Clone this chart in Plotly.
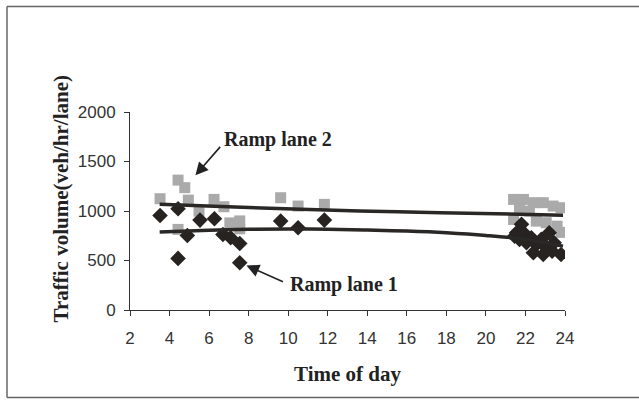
import plotly.graph_objects as go

# ---- data ----
lane2_hours = [3.52, 4.43, 4.77, 4.95, 5.49, 6.25, 6.75, 4.43, 7.05, 7.55, 7.55, 9.62, 10.5, 11.83,
               21.4, 21.9, 22.4, 22.9, 23.4, 23.8, 21.4, 22.55, 23.05, 23.6, 23.8, 21.7, 22.2]
lane2_vals = [1124, 1312, 1236, 1110, 999, 1117, 1043, 814, 880, 900, 820, 1134, 1050, 1067,
              1117, 1117, 1084, 1084, 1050, 1033, 915, 898, 882, 847, 784, 1016, 999]

lane1_hours = [3.52, 4.43, 4.43, 4.9, 5.54, 6.27, 6.7, 7.09, 7.55, 7.55, 9.62, 10.5, 11.83,
               21.8, 21.55, 21.45, 22.0, 22.3, 22.05, 22.55, 22.8, 23.05, 23.2, 23.35, 23.45, 23.8, 22.9, 22.4, 21.7]
lane1_vals = [955, 1023, 521, 753, 908, 922, 763, 730, 672, 477, 898, 831, 908,
              865, 780, 746, 763, 730, 680, 662, 713, 629, 780, 594, 680, 561, 561, 578, 713]

trend2_hours = [3.5, 8, 13.6, 17.7, 23.9]
trend2_vals = [1067, 1035, 1000, 983, 958]

trend1_hours = [3.5, 6, 8, 10, 12, 14, 16, 18, 20, 22, 23.9]
trend1_vals = [787, 805, 815, 818, 815, 807, 797, 780, 753, 713, 645]

x_ticks = [2, 4, 6, 8, 10, 12, 14, 16, 18, 20, 22, 24]
y_ticks = [0, 500, 1000, 1500, 2000]

fig = go.Figure()
fig.add_trace(go.Scatter(x=lane2_hours, y=lane2_vals, mode="markers",
                         marker=dict(symbol="square", size=11, color="#aaaaaa", line=dict(width=0)),
                         showlegend=False))
fig.add_trace(go.Scatter(x=lane1_hours, y=lane1_vals, mode="markers",
                         marker=dict(symbol="diamond", size=12, color="#262320", line=dict(width=0)),
                         showlegend=False))
fig.add_trace(go.Scatter(x=trend2_hours, y=trend2_vals, mode="lines", line_shape="spline",
                         line=dict(color="#2a2826", width=3.5), showlegend=False))
fig.add_trace(go.Scatter(x=trend1_hours, y=trend1_vals, mode="lines", line_shape="spline",
                         line=dict(color="#2a2826", width=3.5), showlegend=False))

serif = "Liberation Serif, Times New Roman, serif"
sans = "Liberation Sans, Arial, sans-serif"

# border frame (paper coords: plot spans x 130..565 px, y 112.5..310.5 px)
def px_x(p):
    return (p - 130) / 435.0

def px_y(p):
    return (310.5 - p) / 198.0

frame = dict(color="#666", width=1.5)
shapes = [
    dict(type="line", xref="paper", yref="paper", x0=px_x(7), x1=px_x(7), y0=px_y(7), y1=px_y(398), line=frame),
    dict(type="line", xref="paper", yref="paper", x0=px_x(7), x1=px_x(660), y0=px_y(7), y1=px_y(7), line=frame),
    dict(type="line", xref="paper", yref="paper", x0=px_x(7), x1=px_x(660), y0=px_y(398), y1=px_y(398), line=frame),
]

fig.update_layout(
    width=639, height=404,
    margin=dict(l=130, r=74, t=112, b=94),
    paper_bgcolor="white", plot_bgcolor="white",
    xaxis=dict(range=[2, 24], tickvals=x_ticks, ticks="outside", ticklen=5, tickcolor="#333",
               showline=True, linecolor="#333", linewidth=1, showgrid=False, zeroline=False,
               ticklabelstandoff=8,
               tickfont=dict(family=sans, size=17, color="#333"),
               title=dict(text="<b>Time of day</b>", font=dict(family=serif, size=21, color="#222"),
                          standoff=18)),
    yaxis=dict(range=[0, 2000], tickvals=y_ticks, ticks="outside", ticklen=5, tickcolor="#333",
               showline=True, linecolor="#333", linewidth=1, showgrid=False, zeroline=False,
               ticklabelstandoff=5,
               tickfont=dict(family=sans, size=17, color="#333")),
    shapes=shapes,
    annotations=[
        dict(x=px_x(60), y=px_y(200), xref="paper", yref="paper", textangle=-90,
             text="<b>Traffic volume(veh/hr/lane)</b>", showarrow=False,
             xanchor="center", yanchor="middle",
             font=dict(family=serif, size=21, color="#222")),
        dict(x=9.5, y=1724, xref="x", yref="y", text="<b>Ramp lane 2</b>", showarrow=False,
             font=dict(family=serif, size=20, color="#222")),
        dict(x=5.31, y=1360, xref="x", yref="y", text="", showarrow=True, ax=26, ay=-30,
             arrowhead=2, arrowsize=1.6, arrowwidth=1.6, arrowcolor="#222"),
        dict(x=12.8, y=258, xref="x", yref="y", text="<b>Ramp lane 1</b>", showarrow=False,
             font=dict(family=serif, size=20, color="#222")),
        dict(x=7.89, y=450, xref="x", yref="y", text="", showarrow=True, ax=38, ay=17,
             arrowhead=2, arrowsize=1.6, arrowwidth=1.6, arrowcolor="#222"),
    ],
)

fig.write_html("out.html")
